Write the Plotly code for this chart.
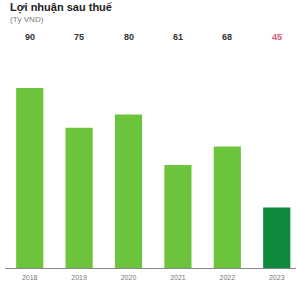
import plotly.graph_objects as go

years = ["2018", "2019", "2020", "2021", "2022", "2023"]
values = [90, 75, 80, 61, 68, 45]
labels = ["90", "75", "80", "61", "68", "45"]
bar_colors = ["#6cc43c", "#6cc43c", "#6cc43c", "#6cc43c", "#6cc43c", "#0e8a3c"]
label_colors = ["#333333"] * 5 + ["#d9547c"]

fig = go.Figure()
fig.add_trace(go.Bar(x=list(range(len(years))), y=values, marker=dict(color=bar_colors, line=dict(width=0)),
                     hoverinfo="skip"))

H_plot = 218.0
def py(pix):
    return (268 - pix) / H_plot

for i, (lab, c) in enumerate(zip(labels, label_colors)):
    fig.add_annotation(x=i, y=py(37), xref="x", yref="paper", text=f"<b>{lab}</b>", showarrow=False,
                       font=dict(size=9, color=c, family="Arial"), yanchor="middle")

fig.add_annotation(x=0, y=py(-1), xref="paper", yref="paper", xanchor="left", yanchor="top", xshift=3,
                   text="<b>Lợi nhuận sau thuế</b>", showarrow=False, font=dict(size=11, color="#222222", family="Arial"))
fig.add_annotation(x=0, y=py(19), xref="paper", yref="paper", xanchor="left", yanchor="middle", xshift=3,
                   text="(Tỷ VND)", showarrow=False, font=dict(size=8, color="#777777", family="Arial"))

fig.update_layout(
    width=296, height=284,
    margin=dict(l=5, r=0, t=50, b=16),
    paper_bgcolor="white", plot_bgcolor="white",
    bargap=0.45, showlegend=False,
    xaxis=dict(range=[-0.5, 5.39], tickmode="array", tickvals=list(range(len(years))), ticktext=years,
               showline=True, linecolor="#888888", linewidth=1, ticks="", showgrid=False, zeroline=False,
               ticklabelstandoff=3,
               tickfont=dict(size=7, color="#777777", family="Arial")),
    yaxis=dict(range=[22.2, 104.3], visible=False, showgrid=False, zeroline=False),
)

fig.write_html("out.html", config={"displayModeBar": False},
               post_script="document.body.style.margin='0px';document.body.style.overflow='hidden';")
